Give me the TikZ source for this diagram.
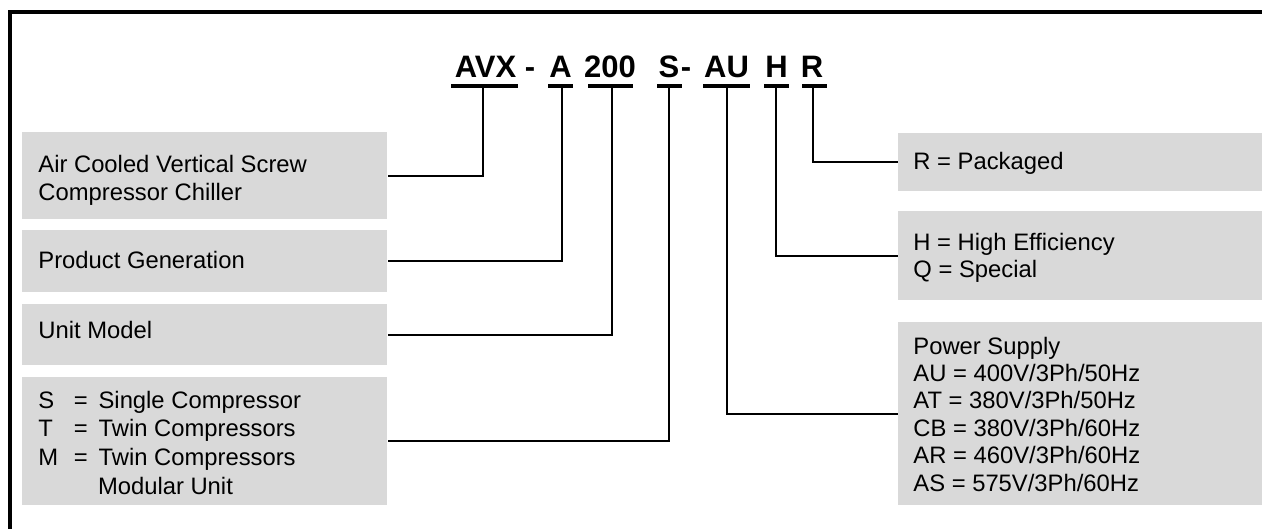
\documentclass[tikz,border=0pt]{standalone}
\usepackage{fontspec}
\setmainfont{Liberation Sans}
\definecolor{boxgray}{HTML}{D9D9D9}
\begin{document}
\begin{tikzpicture}[x=0.5pt,y=-0.5pt,
  graybox/.style={fill=boxgray,draw=none,inner sep=0pt,anchor=north west},
  txt/.style={inner sep=0pt,anchor=base west,font=\fontsize{11.9pt}{13.7pt}\selectfont},
  code/.style={inner sep=0pt,anchor=base,font=\fontsize{15.5pt}{17pt}\selectfont\bfseries},
  bar/.style={line width=2.3pt},
  conn/.style={line width=1pt},
  frame/.style={line width=2pt}]
\useasboundingbox (0,0) rectangle (1262,529);
% frame
\draw[frame] (10,529) -- (10,12) -- (1262,12);
% gray boxes
\node[graybox,minimum width=182.5pt,minimum height=43.5pt] (b1) at (22,132) {};
\node[graybox,minimum width=182.5pt,minimum height=31pt] (b2) at (22,230) {};
\node[graybox,minimum width=182.5pt,minimum height=30.5pt] (b3) at (22,304) {};
\node[graybox,minimum width=182.5pt,minimum height=64pt] (b4) at (22,377) {};
\node[graybox,minimum width=182pt,minimum height=29pt] (r1) at (898,133) {};
\node[graybox,minimum width=182pt,minimum height=44.5pt] (r2) at (898,211) {};
\node[graybox,minimum width=182pt,minimum height=91.5pt] (r3) at (898,322) {};
% box texts
\node[txt] (t1) at (38,173) {\begin{tabular}[t]{@{}l@{}}Air Cooled Vertical Screw\\Compressor Chiller\end{tabular}};
\node[txt] (t2) at (38,268) {Product Generation};
\node[txt] (t3) at (38,338) {Unit Model};
\node[txt,font=\fontsize{11.9pt}{14.4pt}\selectfont] (t4) at (38,408) {\begin{tabular}[t]{@{}l@{}}%
\makebox[17.8pt][l]{S}\makebox[12.3pt][l]{=}Single Compressor\\
\makebox[17.8pt][l]{T}\makebox[12.3pt][l]{=}Twin Compressors\\
\makebox[17.8pt][l]{M}\makebox[12.3pt][l]{=}Twin Compressors\\
\hspace{29.8pt}Modular Unit\end{tabular}};
\node[txt] (s1) at (913,170) {R = Packaged};
\node[txt] (s2) at (913,250) {\begin{tabular}[t]{@{}l@{}}H = High Efficiency\\Q = Special\end{tabular}};
\node[txt] (s3) at (913,354) {\begin{tabular}[t]{@{}l@{}}Power Supply\\AU = 400V/3Ph/50Hz\\AT = 380V/3Ph/50Hz\\CB = 380V/3Ph/60Hz\\AR = 460V/3Ph/60Hz\\AS = 575V/3Ph/60Hz\end{tabular}};
% model code
\node[code] (cAVX) at (485.5,78) {AVX};
\node[code] (d1) at (530,78) {-};
\node[code] (cA) at (560.5,78) {A};
\node[code] (c200) at (610,78) {200};
\node[code] (cS) at (669,78) {S};
\node[code] (d2) at (686,78) {-};
\node[code] (cAU) at (726.5,78) {AU};
\node[code] (cH) at (776.5,78) {H};
\node[code] (cR) at (812,78) {R};
% underline bars
\draw[bar] (451,86) -- (518,86);
\draw[bar] (548,86) -- (573,86);
\draw[bar] (588,86) -- (633,86);
\draw[bar] (657,86) -- (682,86);
\draw[bar] (703,86) -- (750,86);
\draw[bar] (764,86) -- (789,86);
\draw[bar] (802,86) -- (827,86);
% connector start points
\coordinate (pAVX) at (483,86);
\coordinate (pA) at (562,86);
\coordinate (p200) at (612,86);
\coordinate (pS) at (669,86);
\coordinate (pAU) at (727,86);
\coordinate (pH) at (776,86);
\coordinate (pR) at (813,86);
% connectors
\draw[conn] (pAVX) |- (b1.east);
\draw[conn] (pA) |- (b2.east);
\draw[conn] (p200) |- (b3.east);
\draw[conn] (pS) |- (b4.east);
\draw[conn] (pAU) |- (r3.west);
\draw[conn] (pH) |- (r2.west);
\draw[conn] (pR) |- (r1.west);
\end{tikzpicture}
\end{document}
